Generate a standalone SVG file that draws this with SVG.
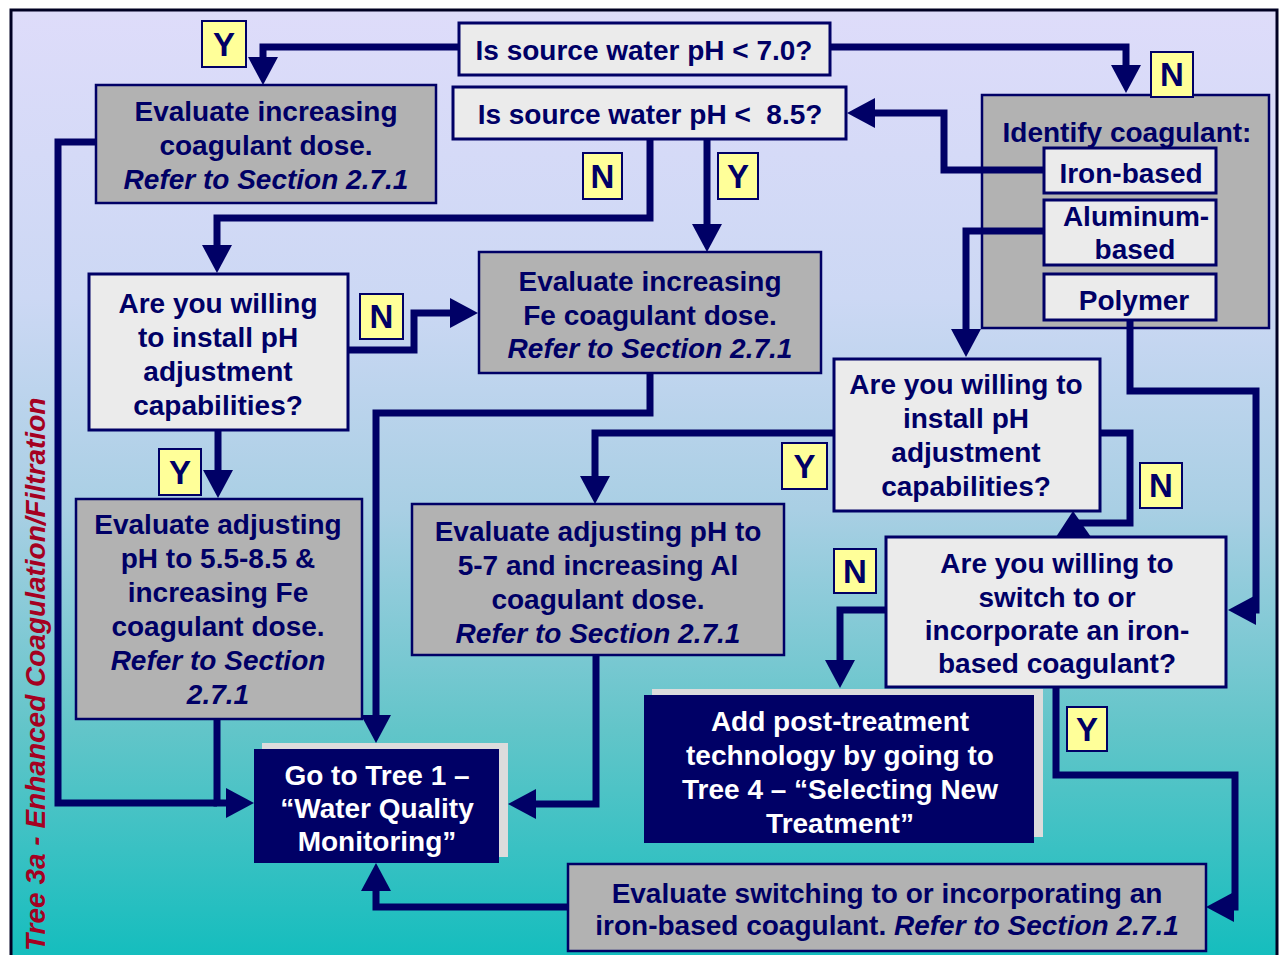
<svg xmlns="http://www.w3.org/2000/svg" width="1280" height="955" viewBox="0 0 1280 955">
<defs>
<linearGradient id="bg" x1="0" y1="0" x2="0" y2="1">
<stop offset="0" stop-color="#dedcfa"/>
<stop offset="0.3" stop-color="#ccd8f4"/>
<stop offset="0.52" stop-color="#a9cfe4"/>
<stop offset="0.75" stop-color="#62c5c9"/>
<stop offset="1" stop-color="#10bdbd"/>
</linearGradient>
<marker id="ah" viewBox="0 0 28 30" markerWidth="28" markerHeight="30" refX="8" refY="15" orient="auto" markerUnits="userSpaceOnUse">
<path d="M0,0 L28,15 L0,30 Z" fill="#000066"/>
</marker>
<style>
.q{fill:#ebebeb;stroke:#000066;stroke-width:3}
.g{fill:#b2b2b2;stroke:#000066;stroke-width:2.5}
.d{fill:#000066}
.sh{fill:#dcdcdc}
.lb{fill:#ffff99;stroke:#000066;stroke-width:2}
.t{font-family:"Liberation Sans",Arial,sans-serif;font-weight:bold;font-size:28px;fill:#000066;text-anchor:middle}
.w{fill:#ffffff}
.i{font-style:italic}
.lt{font-family:"Liberation Sans",Arial,sans-serif;font-weight:bold;font-size:33px;fill:#000066;text-anchor:middle}
.c{fill:none;stroke:#000066;stroke-width:7;stroke-linejoin:miter}
</style>
</defs>
<rect x="0" y="0" width="1280" height="955" fill="#ffffff"/>
<rect x="11" y="10" width="1266" height="960" fill="url(#bg)" stroke="#000022" stroke-width="3"/>
<text transform="translate(45,951) rotate(-90)" font-family="Liberation Sans, Arial, sans-serif" font-weight="bold" font-style="italic" font-size="28" fill="#a50021">Tree 3a - Enhanced Coagulation/Filtration</text>

<g id="q70">
<rect class="q" x="459" y="23" width="371" height="52"/>
<text class="t" x="644" y="60">Is source water pH &lt; 7.0?</text>
</g>
<g id="q85">
<rect class="q" x="453" y="87" width="393" height="52"/>
<text class="t" x="650" y="124" xml:space="preserve">Is source water pH &lt;  8.5?</text>
</g>
<g id="evalCoag">
<rect class="g" x="96" y="85" width="340" height="118"/>
<text class="t" x="266" y="121">Evaluate increasing</text>
<text class="t" x="266" y="155">coagulant dose.</text>
<text class="t i" x="266" y="189">Refer to Section 2.7.1</text>
</g>
<g id="identify">
<rect class="g" x="982" y="95" width="287" height="233" stroke-width="3"/>
<text class="t" x="1127" y="142">Identify coagulant:</text>
</g>
<g id="iron">
<rect class="q" x="1044" y="148" width="172" height="45"/>
<text class="t" x="1131" y="183">Iron-based</text>
</g>
<g id="alum">
<rect class="q" x="1044" y="200" width="172" height="65"/>
<text class="t" x="1136" y="226">Aluminum-</text>
<text class="t" x="1135" y="259">based</text>
</g>
<g id="polymer">
<rect class="q" x="1044" y="274" width="172" height="46"/>
<text class="t" x="1134" y="310">Polymer</text>
</g>
<g id="q1">
<rect class="q" x="89" y="274" width="259" height="156"/>
<text class="t" x="218" y="313">Are you willing</text>
<text class="t" x="218" y="347">to install pH</text>
<text class="t" x="218" y="381">adjustment</text>
<text class="t" x="218" y="415">capabilities?</text>
</g>
<g id="evalFe">
<rect class="g" x="479" y="252" width="342" height="121" stroke-width="3"/>
<text class="t" x="650" y="291">Evaluate increasing</text>
<text class="t" x="650" y="325">Fe coagulant dose.</text>
<text class="t i" x="650" y="358">Refer to Section 2.7.1</text>
</g>
<g id="evalAdjFe">
<rect class="g" x="76" y="499" width="286" height="220"/>
<text class="t" x="218" y="534">Evaluate adjusting</text>
<text class="t" x="218" y="568">pH to 5.5-8.5 &amp;</text>
<text class="t" x="218" y="602">increasing Fe</text>
<text class="t" x="218" y="636">coagulant dose.</text>
<text class="t i" x="218" y="670">Refer to Section</text>
<text class="t i" x="218" y="704">2.7.1</text>
</g>
<g id="q2">
<rect class="q" x="834" y="359" width="266" height="152" stroke-width="2.5"/>
<text class="t" x="966" y="394">Are you willing to</text>
<text class="t" x="966" y="428">install pH</text>
<text class="t" x="966" y="462">adjustment</text>
<text class="t" x="966" y="496">capabilities?</text>
</g>
<g id="evalAl">
<rect class="g" x="412" y="504" width="372" height="151"/>
<text class="t" x="598" y="541">Evaluate adjusting pH to</text>
<text class="t" x="598" y="575">5-7 and increasing Al</text>
<text class="t" x="598" y="609">coagulant dose.</text>
<text class="t i" x="598" y="643">Refer to Section 2.7.1</text>
</g>
<g id="q3">
<rect class="q" x="886" y="537" width="340" height="150" stroke-width="2.5"/>
<text class="t" x="1057" y="573">Are you willing to</text>
<text class="t" x="1057" y="607">switch to or</text>
<text class="t" x="1057" y="640">incorporate an iron-</text>
<text class="t" x="1057" y="673">based coagulant?</text>
</g>
<g id="addPost">
<rect class="sh" x="652" y="689" width="391" height="148"/>
<rect class="d" x="644" y="695" width="390" height="148"/>
<text class="t w" x="840" y="731">Add post-treatment</text>
<text class="t w" x="840" y="765">technology by going to</text>
<text class="t w" x="840" y="799">Tree 4 – “Selecting New</text>
<text class="t w" x="840" y="833">Treatment”</text>
</g>
<g id="goTree1">
<rect class="sh" x="262" y="743" width="246" height="114"/>
<rect class="d" x="254" y="749" width="245" height="114"/>
<text class="t w" x="377" y="785">Go to Tree 1 –</text>
<text class="t w" x="377" y="818">“Water Quality</text>
<text class="t w" x="377" y="851">Monitoring”</text>
</g>
<g id="evalSwitch">
<rect class="g" x="568" y="864" width="638" height="87" stroke-width="3"/>
<text class="t" x="887" y="903">Evaluate switching to or incorporating an</text>
<text class="t" x="887" y="935">iron-based coagulant. <tspan class="i">Refer to Section 2.7.1</tspan></text>
</g>

<g id="connectors">
<path class="c" d="M459,47 H263 V65" marker-end="url(#ah)"/>
<path class="c" d="M830,47 H1126 V73" marker-end="url(#ah)"/>
<path class="c" d="M1044,170 H944 V113 H867" marker-end="url(#ah)"/>
<path class="c" d="M1044,231 H966 V337" marker-end="url(#ah)"/>
<path class="c" d="M1130,320 V391 H1256 V610 H1248" marker-end="url(#ah)"/>
<path class="c" d="M650,139 V218 H217 V253" marker-end="url(#ah)"/>
<path class="c" d="M707,139 V232" marker-end="url(#ah)"/>
<path class="c" d="M348,350 H414 V313 H458" marker-end="url(#ah)"/>
<path class="c" d="M650,373 V413 H376 V723" marker-end="url(#ah)"/>
<path class="c" d="M218,430 V478" marker-end="url(#ah)"/>
<path class="c" d="M96,142 H58 V803 H217"/>
<path class="c" d="M217,719 V803 H234" marker-end="url(#ah)"/>
<path class="c" d="M596,655 V804 H528" marker-end="url(#ah)"/>
<path class="c" d="M834,433 H595 V484" marker-end="url(#ah)"/>
<path class="c" d="M1100,433 H1130 V523 H1078"/>
<polygon points="1073,511 1056,537 1091,537" fill="#000066"/>
<path class="c" d="M886,610 H840 V668" marker-end="url(#ah)"/>
<path class="c" d="M1056,687 V775 H1235 V907 H1226" marker-end="url(#ah)"/>
<path class="c" d="M568,907 H376 V883" marker-end="url(#ah)"/>
</g>

<g id="labels">
<g id="lbl-y1"><rect class="lb" x="202" y="21" width="44" height="46"/><text class="lt" x="224" y="56">Y</text></g>
<g id="lbl-n1"><rect class="lb" x="1151" y="52" width="42" height="45"/><text class="lt" x="1172" y="86">N</text></g>
<g id="lbl-n2"><rect class="lb" x="583" y="153" width="39" height="46"/><text class="lt" x="602.5" y="188">N</text></g>
<g id="lbl-y2"><rect class="lb" x="718" y="153" width="40" height="46"/><text class="lt" x="738" y="188">Y</text></g>
<g id="lbl-n3"><rect class="lb" x="360" y="294" width="43" height="45"/><text class="lt" x="381.5" y="328">N</text></g>
<g id="lbl-y3"><rect class="lb" x="159" y="449" width="42" height="46"/><text class="lt" x="180" y="484">Y</text></g>
<g id="lbl-y4"><rect class="lb" x="782" y="443" width="45" height="46"/><text class="lt" x="804.5" y="478">Y</text></g>
<g id="lbl-n4"><rect class="lb" x="1140" y="463" width="42" height="45"/><text class="lt" x="1161" y="497">N</text></g>
<g id="lbl-n5"><rect class="lb" x="834" y="549" width="42" height="44"/><text class="lt" x="855" y="583">N</text></g>
<g id="lbl-y5"><rect class="lb" x="1067" y="707" width="40" height="44"/><text class="lt" x="1087" y="741">Y</text></g>
</g>
</svg>
